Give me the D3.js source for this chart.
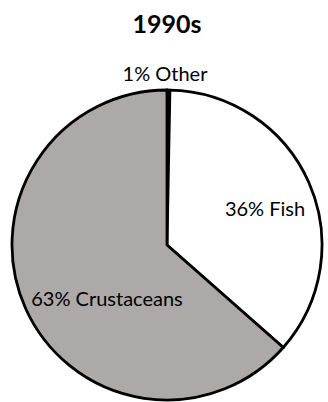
<!DOCTYPE html>
<html>
<head>
<meta charset="utf-8">
<script src="https://cdn.jsdelivr.net/npm/d3@7"></script>
<style>
  body { margin: 0; background: #fff; }
  text { font-family: Lato, "Open Sans", sans-serif; fill: #000; }
</style>
</head>
<body>
<svg id="chart" width="328" height="402"></svg>
<script>
// Data (shares in %)
const categories = ['Other', 'Fish', 'Crustaceans'];
const shares = [0.3, 36.2, 63.5];
const shareLabels = ['1%', '36%', '63%'];
const colors = ['#000000', '#ffffff', '#ada9a8'];
const title = '1990s';

const cx = 167;
const cy = 245;
const radius = 155;

// label anchors, relative to the pie centre (layout only)
const labelOffsets = [[-2, -164], [98, -29], [-60, 61]];

const svg = d3.select('#chart');

svg.append('text')
  .attr('x', cx)
  .attr('y', 33)
  .attr('text-anchor', 'middle')
  .style('font-size', '25px')
  .style('font-weight', 'bold')
  .text(title);

const pie = d3.pie().sort(null).value(d => d.value);
const arc = d3.arc().innerRadius(0).outerRadius(radius);

const data = categories.map((c, i) => ({
  name: c, value: shares[i], label: shareLabels[i], color: colors[i]
}));

const g = svg.append('g').attr('transform', `translate(${cx},${cy})`);

g.selectAll('path')
  .data(pie(data))
  .enter()
  .append('path')
  .attr('d', arc)
  .attr('fill', d => d.data.color)
  .attr('stroke', '#000')
  .attr('stroke-width', 2.8)
  .attr('stroke-linejoin', 'round');

g.selectAll('text.label')
  .data(pie(data))
  .enter()
  .append('text')
  .attr('class', 'label')
  .attr('x', (d, i) => labelOffsets[i][0])
  .attr('y', (d, i) => labelOffsets[i][1])
  .attr('text-anchor', 'middle')
  .style('font-size', '20px')
  .text(d => `${d.data.label} ${d.data.name}`);
</script>
</body>
</html>
